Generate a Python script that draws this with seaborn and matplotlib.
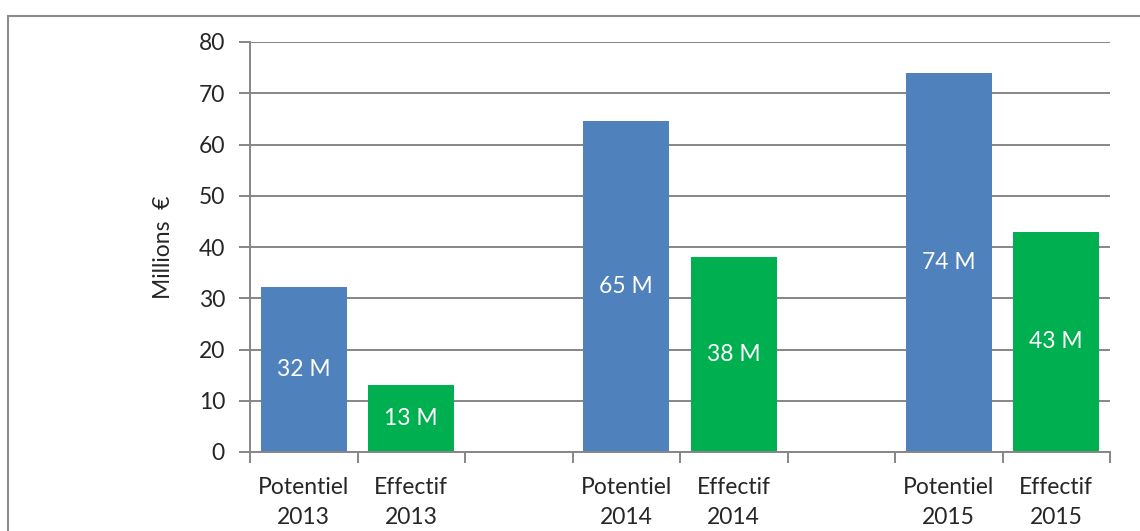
import matplotlib
matplotlib.use("Agg")
import matplotlib.pyplot as plt
from matplotlib.patches import Rectangle
import numpy as np
import pandas as pd
import seaborn as sns

# ── Data ──────────────────────────────────────────────────────────
CATEGORIES = ["Potentiel\n2013", "Effectif\n2013", "Potentiel\n2014",
              "Effectif\n2014", "Potentiel\n2015", "Effectif\n2015"]
VALUES = [32.2, 13.0, 64.5, 38.0, 74.0, 43.0]
LABELS = ["32 M", "13 M", "65 M", "38 M", "74 M", "43 M"]
KIND = ["Potentiel", "Effectif", "Potentiel", "Effectif", "Potentiel", "Effectif"]
# empty slots between the years
ORDER = ["Potentiel\n2013", "Effectif\n2013", "gap1",
         "Potentiel\n2014", "Effectif\n2014", "gap2",
         "Potentiel\n2015", "Effectif\n2015"]
PALETTE = {"Potentiel": "#4F81BD", "Effectif": "#00B050"}
GRID = "#868686"
FS = 16.5

sns.set_style("white")
plt.rcParams["font.family"] = ["Lato", "DejaVu Sans"]

df = pd.DataFrame({"cat": CATEGORIES, "val": VALUES, "kind": KIND})

fig = plt.figure(figsize=(11.4, 5.31), dpi=100)
ax = fig.add_axes([250 / 1140, 1 - 452 / 531, 860 / 1140, 410 / 531])

sns.barplot(data=df, x="cat", y="val", hue="kind", order=ORDER,
            palette=PALETTE, dodge=False, width=0.8, legend=False,
            saturation=1, linewidth=0, ax=ax)

# data labels, centred in each bar
bars = sorted([b for b in ax.patches if b.get_height() > 0],
              key=lambda b: b.get_x())
for p, lab in zip(bars, LABELS):
    ax.text(p.get_x() + p.get_width() / 2, p.get_height() / 2, lab,
            ha="center", va="center", color="white", fontsize=FS)

ax.set_ylim(0, 80)
ax.set_xlim(-0.5, len(ORDER) - 0.5)
ax.set_yticks(np.arange(0, 81, 10))
ax.yaxis.grid(True, color=GRID, linewidth=1.4)
ax.set_axisbelow(True)

ax.set_xticks(range(len(ORDER)))
ax.set_xticklabels([c if not c.startswith("gap") else "" for c in ORDER],
                   linespacing=1.5)
ax.set_xticks(np.arange(-0.5, len(ORDER), 1), minor=True)
ax.tick_params(axis="x", which="major", length=0, pad=18, labelsize=FS)
ax.tick_params(axis="x", which="minor", length=8, width=1.4, color=GRID,
               bottom=True)
ax.tick_params(axis="y", length=8, width=1.4, color=GRID, labelsize=FS,
               left=True, pad=10)

ax.set_xlabel("")
ax.set_ylabel("Millions  €", fontsize=FS, labelpad=18)

for s in ["top", "right"]:
    ax.spines[s].set_visible(False)
for s in ["left", "bottom"]:
    ax.spines[s].set_color(GRID)
    ax.spines[s].set_linewidth(1.4)

# outer chart frame
fig.patches.append(Rectangle((8 / 1140, -0.1), 1.2, 1.1 - 16 / 531,
                             transform=fig.transFigure, fill=False,
                             edgecolor="#8C8C8C", linewidth=1.5))

fig.savefig("out.png", dpi=100)
